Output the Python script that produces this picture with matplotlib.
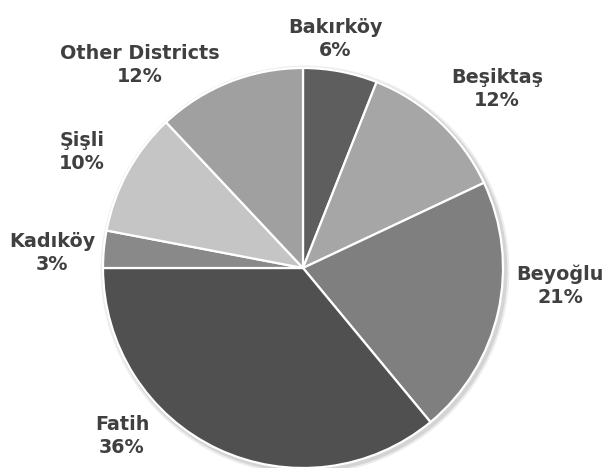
import matplotlib
matplotlib.use("Agg")
import matplotlib.pyplot as plt
from matplotlib.patches import Circle

districts = ["Bakırköy", "Beşiktaş", "Beyoğlu", "Fatih", "Kadıköy", "Şişli", "Other Districts"]
shares = [6, 12, 21, 36, 3, 10, 12]
colors = ["#5e5e5e", "#a6a6a6", "#7f7f7f", "#505050", "#898989", "#c5c5c5", "#a0a0a0"]

# label anchor points (pie radius = 1)
label_pos = [(0.16, 1.145), (0.97, 0.895), (1.285, -0.09), (-0.905, -0.84),
             (-1.255, 0.075), (-1.105, 0.58), (-0.815, 1.015)]

fig = plt.figure(figsize=(6.14, 4.68), dpi=100)
ax = fig.add_axes([0, 0, 1, 1])

# soft shadow under the pie
for r, a in [(1.022, 0.07), (1.012, 0.10)]:
    ax.add_patch(Circle((0.01, -0.01), r, color="#000000", alpha=a, lw=0, zorder=0))

ax.pie(shares, colors=colors, startangle=90, counterclock=False, radius=1.0,
       wedgeprops=dict(edgecolor="white", linewidth=1.6), frame=False)

for name, val, (x, y) in zip(districts, shares, label_pos):
    ax.text(x, y, f"{name}\n{val}%", ha="center", va="center", fontsize=13.8,
            fontweight="bold", color="#404040", linespacing=1.28)

ax.set_xlim(-303 / 200, (614 - 303) / 200)
ax.set_ylim(-(468 - 268) / 200, 268 / 200)
ax.set_aspect("equal")
ax.axis("off")

fig.savefig("out.png", dpi=100)
